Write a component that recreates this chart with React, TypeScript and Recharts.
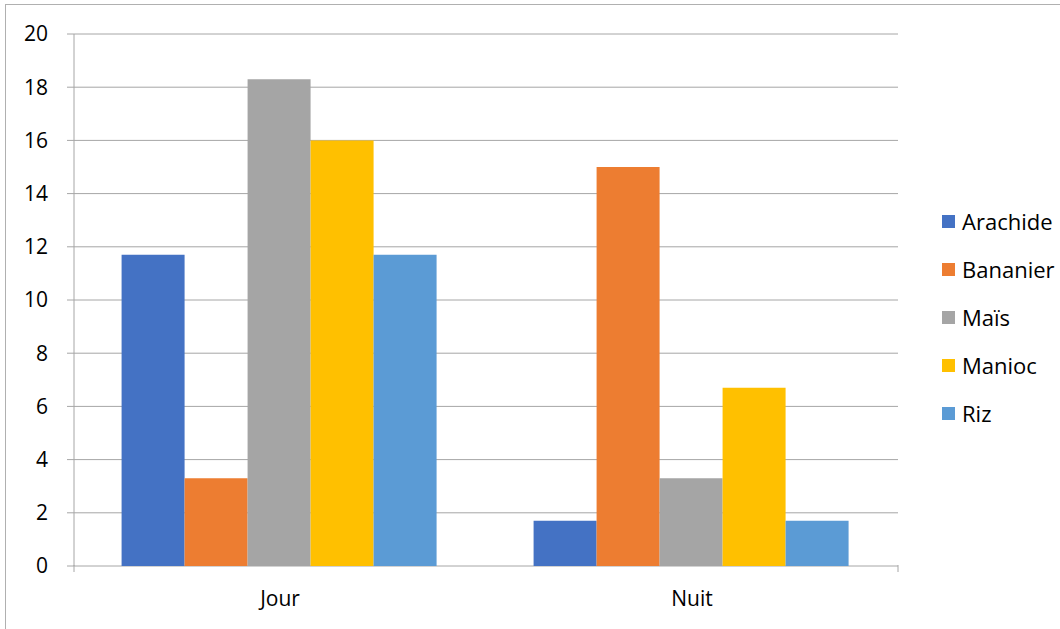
import React from 'react';
import { BarChart, Bar, XAxis, YAxis, CartesianGrid } from 'recharts';

const periods = ['Jour', 'Nuit'];
const arachide = [11.7, 1.7];
const bananier = [3.3, 15];
const mais = [18.3, 3.3];
const manioc = [16, 6.7];
const riz = [11.7, 1.7];
const yTicks = [0, 2, 4, 6, 8, 10, 12, 14, 16, 18, 20];
const edgeTicks = [0, 1, 2];

const series = [
  { key: 'arachide', name: 'Arachide', color: '#4472C4', values: arachide },
  { key: 'bananier', name: 'Bananier', color: '#ED7D31', values: bananier },
  { key: 'mais', name: 'Maïs', color: '#A5A5A5', values: mais },
  { key: 'manioc', name: 'Manioc', color: '#FFC000', values: manioc },
  { key: 'riz', name: 'Riz', color: '#5B9BD5', values: riz },
];

const data = periods.map((period, i) => {
  const row: Record<string, string | number> = { period };
  series.forEach((s) => {
    row[s.key] = s.values[i];
  });
  return row;
});

const FONT = '"Open Sans", Lato, sans-serif';
const AXIS = '#a6a6a6';

// short tick marks at the category boundaries, hanging from the zero line
const EdgeTick = (props: any) => {
  const { x, y } = props;
  return <line x1={x} x2={x} y1={y - 1} y2={y + 6} stroke={AXIS} strokeWidth={1} />;
};

const App: React.FC = () => {
  return (
    <div
      style={{
        position: 'absolute',
        left: 0,
        top: 0,
        width: 1060,
        height: 629,
        background: '#fff',
        fontFamily: FONT,
      }}
    >
      <div
        style={{
          position: 'absolute',
          left: 5,
          top: 4,
          width: 1070,
          height: 640,
          border: '1px solid #b0b0b0',
        }}
      />
      <div style={{ position: 'absolute', left: 0, top: 0 }}>
        <BarChart
          width={1060}
          height={629}
          data={data}
          margin={{ top: 34, right: 162, left: 0, bottom: 0 }}
          barCategoryGap="11.55%"
          barGap={0}
        >
          <CartesianGrid vertical={false} stroke={AXIS} strokeWidth={1} />
          <XAxis
            xAxisId="a"
            type="number"
            domain={[0, 2]}
            ticks={edgeTicks}
            interval={0}
            allowDataOverflow
            height={1}
            axisLine={false}
            tickLine={false}
            tickSize={0}
            tickMargin={0}
            tick={<EdgeTick />}
          />
          <XAxis
            xAxisId="b"
            dataKey="period"
            height={62}
            axisLine={false}
            tickLine={false}
            tickSize={0}
            tickMargin={24}
            tick={{ fill: '#000', fontSize: 21, fontFamily: FONT }}
          />
          <YAxis
            width={74}
            domain={[0, 20]}
            ticks={yTicks}
            interval={0}
            axisLine={{ stroke: AXIS }}
            tickLine={{ stroke: AXIS }}
            tickSize={7}
            tickMargin={19}
            tick={{ fill: '#000', fontSize: 21, fontFamily: FONT }}
          />
          {series.map((s) => (
            <Bar
              key={s.key}
              xAxisId="b"
              dataKey={s.key}
              name={s.name}
              fill={s.color}
              isAnimationActive={false}
            />
          ))}
        </BarChart>
      </div>
      <div style={{ position: 'absolute', left: 942, top: 197 }}>
        {series.map((s) => (
          <div key={s.key} style={{ display: 'flex', alignItems: 'center', height: 48 }}>
            <span
              style={{ width: 13, height: 13, background: s.color, display: 'inline-block', marginRight: 7 }}
            />
            <span style={{ fontSize: 22, color: '#000', lineHeight: '22px' }}>{s.name}</span>
          </div>
        ))}
      </div>
    </div>
  );
};

export default App;
